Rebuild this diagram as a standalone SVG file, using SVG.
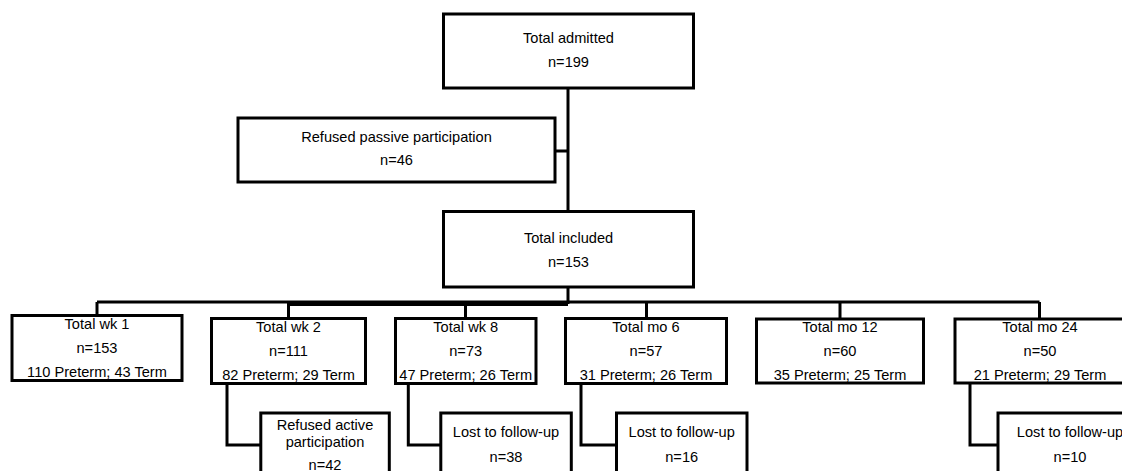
<svg xmlns="http://www.w3.org/2000/svg" width="1122" height="471" viewBox="0 0 1122 471">
<style>
.box{fill:#fff;stroke:#000;stroke-width:3}
.con{fill:none;stroke:#000;stroke-width:3}
text{font-family:"Liberation Sans",Arial,sans-serif;font-size:14.6px;fill:#000;text-anchor:middle}
</style>
<rect width="1122" height="471" fill="#fff"/>
<g id="connectors">
<path class="con" d="M568 87.5 V211.5"/>
<path class="con" d="M555 151 H568"/>
<path class="con" d="M568 288 V304"/>
<path class="con" d="M97 302 H1039.5"/>
<path class="con" d="M288.5 304.5 H568"/>
<path class="con" d="M97 302 V315.5"/>
<path class="con" d="M288.5 302 V318.5"/>
<path class="con" d="M465.5 302 V318.5"/>
<path class="con" d="M646.5 302 V318.5"/>
<path class="con" d="M840 302 V319"/>
<path class="con" d="M1039.5 302 V319"/>
<path class="con" d="M227 383.5 V445 H260.8"/>
<path class="con" d="M408.3 383.5 V445 H440.8"/>
<path class="con" d="M581 383.5 V445 H616.5"/>
<path class="con" d="M970 383 V445 H998"/>
</g>
<g id="admitted">
<rect class="box" x="443.5" y="14" width="250" height="74"/>
<text x="568.5" y="43.3">Total admitted</text>
<text x="568.5" y="66.7">n=199</text>
</g>
<g id="refused-passive">
<rect class="box" x="238" y="118" width="317" height="64"/>
<text x="396.5" y="142.3">Refused passive participation</text>
<text x="396.5" y="165">n=46</text>
</g>
<g id="included">
<rect class="box" x="443.5" y="211.5" width="250" height="75.5"/>
<text x="568.5" y="243.3">Total included</text>
<text x="568.5" y="266.7">n=153</text>
</g>
<g id="wk1">
<rect class="box" x="12" y="315.5" width="170" height="65"/>
<text x="97" y="329.3">Total wk 1</text>
<text x="97" y="353.3">n=153</text>
<text x="97" y="376.7">110 Preterm; 43 Term</text>
</g>
<g id="wk2">
<rect class="box" x="211.5" y="318.5" width="154" height="65"/>
<text x="288.5" y="332">Total wk 2</text>
<text x="288.5" y="355.5">n=111</text>
<text x="288.5" y="380">82 Preterm; 29 Term</text>
</g>
<g id="wk8">
<rect class="box" x="395.5" y="318.5" width="140.5" height="65"/>
<text x="465.7" y="332">Total wk 8</text>
<text x="465.7" y="355.5">n=73</text>
<text x="465.7" y="380">47 Preterm; 26 Term</text>
</g>
<g id="mo6">
<rect class="box" x="565.5" y="318.5" width="161" height="65"/>
<text x="646" y="332">Total mo 6</text>
<text x="646" y="355.5">n=57</text>
<text x="646" y="380">31 Preterm; 26 Term</text>
</g>
<g id="mo12">
<rect class="box" x="756.5" y="319" width="167" height="64"/>
<text x="840" y="332">Total mo 12</text>
<text x="840" y="355.5">n=60</text>
<text x="840" y="380">35 Preterm; 25 Term</text>
</g>
<g id="mo24">
<rect class="box" x="955" y="319" width="172" height="64"/>
<text x="1040" y="332">Total mo 24</text>
<text x="1040" y="355.5">n=50</text>
<text x="1040" y="380">21 Preterm; 29 Term</text>
</g>
<g id="refused-active">
<rect class="box" x="260.8" y="413" width="128.5" height="80"/>
<text x="325" y="430">Refused active</text>
<text x="325" y="446.7">participation</text>
<text x="325" y="470">n=42</text>
</g>
<g id="lost-wk8">
<rect class="box" x="440.8" y="413" width="130.5" height="80"/>
<text x="506" y="437.3">Lost to follow-up</text>
<text x="506" y="461.7">n=38</text>
</g>
<g id="lost-mo6">
<rect class="box" x="616.5" y="413" width="130.5" height="80"/>
<text x="681.7" y="437.3">Lost to follow-up</text>
<text x="681.7" y="461.7">n=16</text>
</g>
<g id="lost-mo24">
<rect class="box" x="998" y="413" width="145" height="80"/>
<text x="1070" y="437.3">Lost to follow-up</text>
<text x="1070" y="461.7">n=10</text>
</g>
</svg>
